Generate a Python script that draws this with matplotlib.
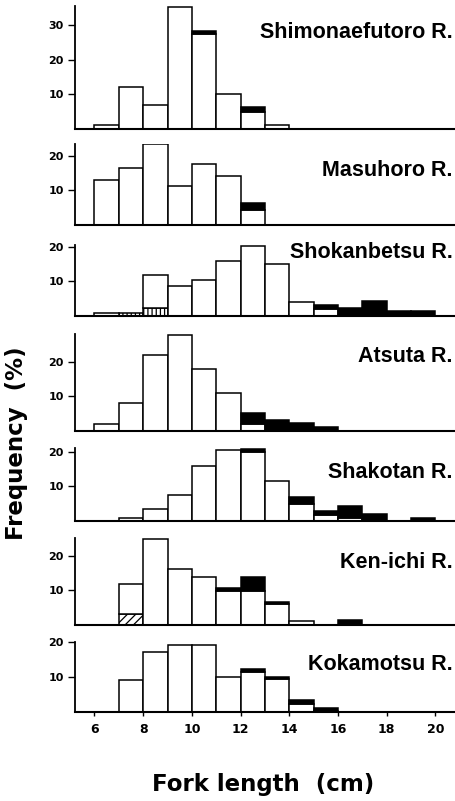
## Fork length frequency distributions, seven rivers
import numpy as np
import matplotlib
matplotlib.use("Agg")
import matplotlib.pyplot as plt

# bin left edges (cm), 1 cm wide
bins = np.arange(6, 20)

rivers = ["Shimonaefutoro R.", "Masuhoro R.", "Shokanbetsu R.", "Atsuta R.",
          "Shakotan R.", "Ken-ichi R.", "Kokamotsu R."]

# frequencies (%) : white part, black part (top), hatched part (bottom)
shimo_white = [1.2, 12, 7, 35.3, 27.3, 10, 5, 1.2, 0, 0, 0, 0, 0, 0]
shimo_black = [0, 0, 0, 0, 1.0, 0, 1.2, 0, 0, 0, 0, 0, 0, 0]
shimo_hatch = [0] * 14

masu_white = [12.9, 16.5, 23.2, 11.1, 17.7, 14, 4.4, 0, 0, 0, 0, 0, 0, 0]
masu_black = [0, 0, 0, 0, 0, 0, 2.0, 0, 0, 0, 0, 0, 0, 0]
masu_hatch = [0] * 14

shoka_white = [1.0, 0, 9.3, 8.7, 10.5, 15.8, 20.2, 14.9, 4.1, 2.0, 0, 0, 0, 0]
shoka_black = [0, 0, 0, 0, 0, 0, 0, 0, 0, 1.1, 2.3, 4.4, 1.5, 1.5]
shoka_hatch = [0, 0.8, 2.4, 0, 0, 0, 0, 0, 0, 0, 0, 0, 0, 0]

atsu_white = [2.0, 8.2, 21.9, 27.7, 17.9, 11, 2.0, 0, 0, 0, 0, 0, 0, 0]
atsu_black = [0, 0, 0, 0, 0, 0, 3.3, 3.1, 2.3, 1.1, 0, 0, 0, 0]
atsu_hatch = [0] * 14

shako_white = [0, 0.8, 3.6, 7.5, 15.9, 20.6, 19.8, 11.4, 4.8, 1.6, 1.0, 0, 0, 0]
shako_black = [0, 0, 0, 0, 0, 0, 1.0, 0, 2.1, 1.3, 3.3, 1.9, 0, 0.8]
shako_hatch = [0] * 14

ken_white = [0, 8.5, 24.7, 16, 13.8, 9.8, 9.8, 6.0, 1.2, 0, 0, 0, 0, 0]
ken_black = [0, 0, 0, 0, 0, 1.0, 4.1, 0.5, 0, 0, 1.4, 0, 0, 0]
ken_hatch = [0, 3.2, 0, 0, 0, 0, 0, 0, 0, 0, 0, 0, 0, 0]

koka_white = [0, 9.1, 17.2, 19.1, 19.1, 10, 11.5, 9.3, 2.2, 0.2, 0, 0, 0, 0]
koka_black = [0, 0, 0, 0, 0, 0, 0.7, 0.7, 1.0, 0.8, 0, 0, 0, 0]
koka_hatch = [0] * 14

whites = [shimo_white, masu_white, shoka_white, atsu_white, shako_white, ken_white, koka_white]
blacks = [shimo_black, masu_black, shoka_black, atsu_black, shako_black, ken_black, koka_black]
hatches = [shimo_hatch, masu_hatch, shoka_hatch, atsu_hatch, shako_hatch, ken_hatch, koka_hatch]
hatch_style = ["", "", "||||", "", "", "////", ""]
yticks = [[10, 20, 30], [10, 20], [10, 20], [10, 20], [10, 20], [10, 20], [10, 20]]

# layout (pixels): baseline of each panel, top of y range, label centre
W, H = 456, 801
baselines = [129, 225, 316, 431, 521, 625, 711.5]
ymaxs = [35.4, 23.3, 20.6, 28.0, 21.0, 25.0, 20.0]
pxunit = 3.47
label_y = [32, 170, 253, 356, 473, 563, 665]
x_left, x_right = 75, 456
xlo, xhi = 5.2, 20.85

plt.rcParams['hatch.linewidth'] = 0.9
fig = plt.figure(figsize=(W / 100, H / 100), dpi=100)

for i in range(7):
    b = baselines[i]
    hgt = ymaxs[i] * pxunit
    ax = fig.add_axes([x_left / W, 1 - b / H, (x_right - x_left) / W, hgt / H])
    hb = np.array(hatches[i], dtype=float)
    wh = np.array(whites[i], dtype=float)
    bl = np.array(blacks[i], dtype=float)
    m = hb > 0
    if m.any():
        ax.bar(bins[m], hb[m], width=1, align='edge', facecolor='white',
               edgecolor='black', hatch=hatch_style[i], linewidth=1.1)
    m = wh > 0
    ax.bar(bins[m], wh[m], width=1, align='edge', bottom=hb[m],
           facecolor='white', edgecolor='black', linewidth=1.1)
    m = bl > 0
    ax.bar(bins[m], bl[m], width=1, align='edge', bottom=(hb + wh)[m],
           facecolor='black', edgecolor='black', linewidth=1.1)

    ax.set_xlim(xlo, xhi)
    ax.set_ylim(0, ymaxs[i])
    ax.spines['top'].set_visible(False)
    ax.spines['right'].set_visible(False)
    ax.spines['left'].set_linewidth(1.3)
    ax.spines['bottom'].set_linewidth(1.5)
    ax.set_yticks(yticks[i])
    ax.set_yticklabels([str(t) for t in yticks[i]], fontfamily='DejaVu Sans',
                       fontweight='bold', fontsize=8)
    ax.tick_params(axis='y', direction='out', length=5, width=1, pad=3)
    if i < 6:
        ax.set_xticks([])
    else:
        ax.set_xticks(np.arange(6, 21, 2))
        ax.set_xticklabels([str(t) for t in range(6, 21, 2)], fontfamily='DejaVu Sans',
                           fontweight='bold', fontsize=9)
        ax.tick_params(axis='x', direction='out', length=3, width=1, pad=5)

    fig.text(453 / W, 1 - label_y[i] / H, rivers[i], ha='right', va='center',
             fontfamily='Liberation Sans', fontweight='bold', fontsize=15.5)

fig.text(17 / W, 1 - 443 / H, "Frequency  (%)", rotation=90, ha='center', va='center',
         fontfamily='DejaVu Sans', fontweight='heavy', fontsize=16.5)
fig.text(263 / W, 1 - 785 / H, "Fork length  (cm)", ha='center', va='center',
         fontfamily='DejaVu Sans', fontweight='heavy', fontsize=16.5)

fig.savefig("out.png", dpi=100)
